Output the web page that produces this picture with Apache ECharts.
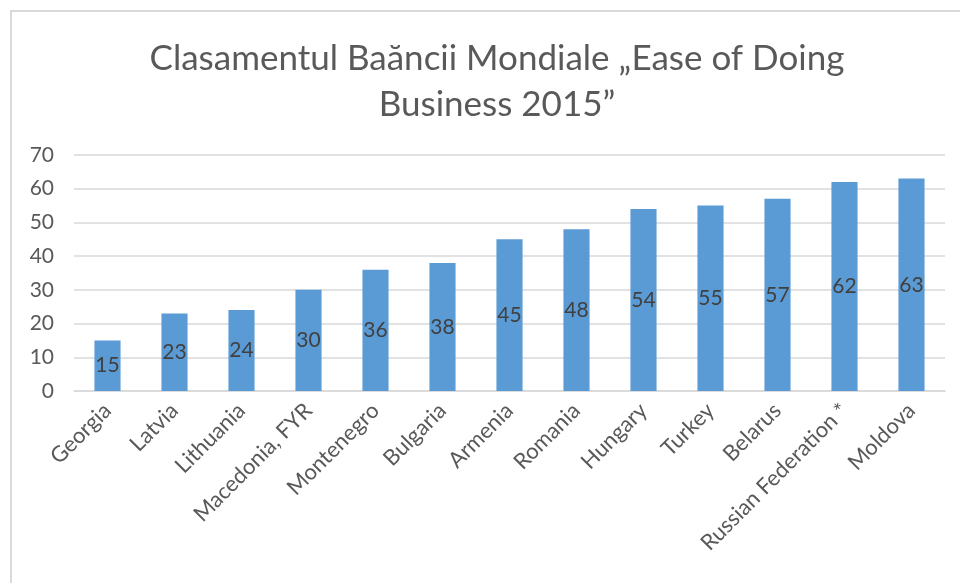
<!DOCTYPE html>
<html><head><meta charset="utf-8">
<script src="https://cdn.jsdelivr.net/npm/echarts@6/dist/echarts.min.js"></script>
<style>html,body{margin:0;padding:0;background:#fff}#c{width:960px;height:583px}</style>
</head><body><div id="c"></div>
<script>
const categories = ["Georgia","Latvia","Lithuania","Macedonia, FYR","Montenegro","Bulgaria","Armenia","Romania","Hungary","Turkey","Belarus","Russian Federation *","Moldova"];
const values = [15,23,24,30,36,38,45,48,54,55,57,62,63];
const titleText = "Clasamentul Baăncii Mondiale „Ease of Doing\nBusiness 2015”";
const yMin = 0, yMax = 70, yInterval = 10;

const chart = echarts.init(document.getElementById('c'), null, {renderer:'canvas'});
const FONT = 'Lato';
chart.setOption({
  animation:false,
  graphic:[{type:'rect', shape:{x:11,y:11,width:1000,height:700}, style:{fill:'none', stroke:'#d9d9d9', lineWidth:2}, silent:true}],
  title:{text:titleText, left:492, textAlign:'center', top:31, textStyle:{fontFamily:FONT, fontSize:35, fontWeight:'normal', color:'#595959', lineHeight:46}},
  grid:{left:74, right:15, top:155, bottom:192, containLabel:false},
  xAxis:{type:'category', data:categories,
    axisLine:{lineStyle:{color:'#d9d9d9', width:1.5}}, axisTick:{show:false},
    axisLabel:{rotate:45, interval:0, margin:16, fontFamily:FONT, fontSize:22, color:'#595959'}},
  yAxis:{type:'value', min:yMin, max:yMax, interval:yInterval,
    axisLine:{show:false}, axisTick:{show:false},
    splitLine:{lineStyle:{color:'#d9d9d9', width:1.5}},
    axisLabel:{margin:20, fontFamily:FONT, fontSize:21, color:'#595959'}},
  series:[{type:'bar', data:values, barWidth:'39%', itemStyle:{color:'#5B9BD5'},
    label:{show:true, position:'inside', fontFamily:FONT, fontSize:21, color:'#404040'}}]
});
</script></body></html>
